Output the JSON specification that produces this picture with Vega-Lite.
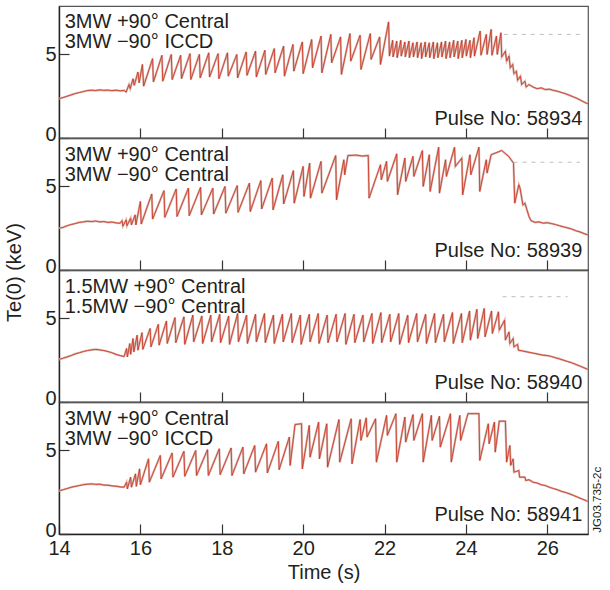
{
  "$schema": "https://vega.github.io/schema/vega-lite/v6.json",
  "padding": {"left": 4, "top": 5, "right": 4, "bottom": 0},
  "spacing": 0,
  "bounds": "flush",
  "config": {
    "font": "Liberation Sans",
    "view": {"stroke": "#555555", "strokeWidth": 1.2},
    "axis": {"labelFont": "Liberation Sans", "labelFontSize": 20, "labelColor": "#231f20", "titleFont": "Liberation Sans", "titleFontSize": 20, "titleFontWeight": "normal", "titleColor": "#231f20", "domainColor": "#222222", "domainWidth": 1.4, "tickColor": "#333333", "tickWidth": 1.2, "grid": false, "labelFlush": false},
    "axisY": {"labelOffset": {"condition": {"test": "datum.value === 0", "value": -4}, "value": 0}}
  },
  "datasets": {
    "p1": [
      {"t":14.00,"v":2.35},{"t":14.10,"v":2.42},{"t":14.20,"v":2.50},{"t":14.30,"v":2.58},{"t":14.40,"v":2.66},{"t":14.50,"v":2.72},{"t":14.60,"v":2.78},{"t":14.70,"v":2.84},{"t":14.80,"v":2.86},{"t":14.90,"v":2.84},{"t":15.00,"v":2.88},{"t":15.10,"v":2.85},{"t":15.20,"v":2.87},{"t":15.30,"v":2.83},{"t":15.40,"v":2.86},{"t":15.50,"v":2.82},{"t":15.60,"v":2.85},
      {"t":15.65,"v":2.75},{"t":15.72,"v":3.20},{"t":15.75,"v":2.95},{"t":15.82,"v":3.55},{"t":15.85,"v":3.15},{"t":15.94,"v":3.95},{"t":15.97,"v":3.30},{"t":16.05,"v":4.40},{"t":16.08,"v":3.10},
      {"t":16.30,"v":4.75},{"t":16.32,"v":3.35},{"t":16.53,"v":4.95},{"t":16.55,"v":3.40},{"t":16.76,"v":5.00},{"t":16.78,"v":3.50},{"t":16.99,"v":4.95},{"t":17.01,"v":3.55},{"t":17.22,"v":5.05},{"t":17.24,"v":3.50},{"t":17.45,"v":5.00},{"t":17.47,"v":3.60},{"t":17.68,"v":5.10},{"t":17.70,"v":3.65},{"t":17.91,"v":5.05},{"t":17.93,"v":3.55},{"t":18.14,"v":5.10},{"t":18.16,"v":3.70},{"t":18.37,"v":5.00},{"t":18.39,"v":3.60},{"t":18.60,"v":5.15},{"t":18.62,"v":3.75},{"t":18.83,"v":5.20},{"t":18.85,"v":3.65},{"t":19.06,"v":5.25},{"t":19.08,"v":3.80},{"t":19.29,"v":5.35},{"t":19.31,"v":3.90},{"t":19.52,"v":5.50},{"t":19.54,"v":3.70},{"t":19.75,"v":5.60},{"t":19.77,"v":4.00},{"t":19.98,"v":5.75},{"t":20.00,"v":3.85},{"t":20.21,"v":5.90},{"t":20.23,"v":4.20},{"t":20.44,"v":6.10},{"t":20.46,"v":3.90},{"t":20.68,"v":6.20},{"t":20.70,"v":4.50},{"t":20.92,"v":6.05},{"t":20.94,"v":3.80},{"t":21.15,"v":6.25},{"t":21.17,"v":4.60},{"t":21.40,"v":6.15},{"t":21.42,"v":4.10},{"t":21.65,"v":6.25},{"t":21.67,"v":4.70},{"t":21.88,"v":6.05},{"t":21.90,"v":4.40},{"t":22.10,"v":6.95},{"t":22.12,"v":4.90},
      {"t":22.20,"v":5.85},{"t":22.21,"v":4.85},{"t":22.30,"v":5.80},{"t":22.31,"v":4.80},{"t":22.40,"v":5.85},{"t":22.41,"v":4.90},{"t":22.50,"v":5.75},{"t":22.51,"v":4.85},{"t":22.60,"v":5.80},{"t":22.61,"v":4.80},{"t":22.70,"v":5.70},{"t":22.71,"v":4.85},{"t":22.80,"v":5.75},{"t":22.81,"v":4.80},{"t":22.90,"v":5.70},{"t":22.91,"v":4.75},{"t":23.00,"v":5.75},{"t":23.01,"v":4.85},{"t":23.10,"v":5.70},{"t":23.11,"v":4.80},{"t":23.20,"v":5.75},{"t":23.21,"v":4.75},{"t":23.30,"v":5.70},{"t":23.31,"v":4.80},{"t":23.40,"v":5.75},{"t":23.41,"v":4.85},{"t":23.50,"v":5.80},{"t":23.51,"v":4.75},{"t":23.60,"v":5.75},{"t":23.61,"v":4.80},{"t":23.70,"v":5.85},{"t":23.71,"v":4.85},{"t":23.80,"v":5.80},{"t":23.81,"v":4.75},{"t":23.90,"v":5.85},{"t":23.91,"v":4.80},{"t":24.00,"v":5.90},{"t":24.01,"v":4.90},{"t":24.10,"v":5.85},{"t":24.11,"v":4.80},{"t":24.20,"v":6.00},{"t":24.21,"v":4.90},
      {"t":24.35,"v":6.40},{"t":24.37,"v":4.95},{"t":24.50,"v":6.20},{"t":24.52,"v":5.00},{"t":24.62,"v":6.50},{"t":24.64,"v":4.95},{"t":24.75,"v":6.10},{"t":24.77,"v":5.00},{"t":24.86,"v":6.30},{"t":24.88,"v":4.85},{"t":24.97,"v":5.20},{"t":25.00,"v":4.60},{"t":25.06,"v":4.90},{"t":25.09,"v":4.20},{"t":25.15,"v":4.40},{"t":25.18,"v":3.85},{"t":25.24,"v":4.00},{"t":25.27,"v":3.45},{"t":25.34,"v":3.70},{"t":25.37,"v":3.20},{"t":25.45,"v":3.40},{"t":25.48,"v":3.05},
      {"t":25.55,"v":3.20},{"t":25.65,"v":3.05},{"t":25.75,"v":2.95},{"t":25.85,"v":3.00},{"t":25.95,"v":2.90},{"t":26.05,"v":2.92},{"t":26.15,"v":2.85},{"t":26.25,"v":2.80},{"t":26.35,"v":2.72},{"t":26.45,"v":2.65},{"t":26.55,"v":2.55},{"t":26.65,"v":2.45},{"t":26.75,"v":2.35},{"t":26.85,"v":2.22},{"t":26.95,"v":2.10},{"t":27.00,"v":2.05}
    ],
    "p2": [
      {"t":14.00,"v":2.50},{"t":14.10,"v":2.55},{"t":14.20,"v":2.65},{"t":14.30,"v":2.72},{"t":14.40,"v":2.78},{"t":14.50,"v":2.85},{"t":14.60,"v":2.88},{"t":14.70,"v":2.92},{"t":14.80,"v":2.90},{"t":14.90,"v":2.93},{"t":15.00,"v":2.88},{"t":15.10,"v":2.90},{"t":15.20,"v":2.85},{"t":15.30,"v":2.87},{"t":15.40,"v":2.82},{"t":15.50,"v":2.80},
      {"t":15.55,"v":2.95},{"t":15.57,"v":2.62},{"t":15.65,"v":3.00},{"t":15.67,"v":2.65},{"t":15.76,"v":3.10},{"t":15.78,"v":2.70},{"t":15.87,"v":3.30},{"t":15.89,"v":2.70},{"t":16.00,"v":4.10},{"t":16.02,"v":2.75},
      {"t":16.28,"v":4.55},{"t":16.30,"v":3.05},{"t":16.58,"v":4.75},{"t":16.60,"v":3.15},{"t":16.88,"v":4.85},{"t":16.90,"v":3.20},{"t":17.18,"v":4.90},{"t":17.20,"v":3.25},{"t":17.48,"v":4.95},{"t":17.50,"v":3.30},{"t":17.78,"v":4.90},{"t":17.80,"v":3.35},{"t":18.08,"v":5.00},{"t":18.10,"v":3.40},{"t":18.38,"v":5.05},{"t":18.40,"v":3.45},{"t":18.68,"v":5.20},{"t":18.70,"v":3.50},{"t":18.96,"v":5.35},{"t":18.98,"v":3.65},{"t":19.24,"v":5.50},{"t":19.26,"v":3.60},{"t":19.50,"v":5.70},{"t":19.52,"v":3.95},{"t":19.76,"v":5.95},{"t":19.78,"v":4.00},{"t":20.00,"v":6.20},{"t":20.02,"v":4.40},{"t":20.16,"v":6.40},{"t":20.18,"v":4.30},{"t":20.44,"v":6.50},{"t":20.46,"v":4.60},{"t":20.80,"v":6.85},{"t":20.82,"v":4.20},{"t":21.00,"v":6.60},{"t":21.02,"v":5.70},{"t":21.10,"v":6.85},{"t":21.30,"v":6.88},{"t":21.45,"v":6.82},{"t":21.60,"v":6.85},{"t":21.62,"v":4.30},
      {"t":21.90,"v":6.30},{"t":21.92,"v":5.40},{"t":22.05,"v":6.50},{"t":22.07,"v":5.30},{"t":22.30,"v":6.95},{"t":22.32,"v":4.50},{"t":22.50,"v":6.70},{"t":22.52,"v":5.30},{"t":22.70,"v":6.80},{"t":22.72,"v":5.60},{"t":22.93,"v":7.15},{"t":22.95,"v":5.00},{"t":23.10,"v":6.90},{"t":23.12,"v":4.70},{"t":23.33,"v":7.35},{"t":23.35,"v":4.60},{"t":23.50,"v":6.60},{"t":23.52,"v":5.60},{"t":23.72,"v":7.35},{"t":23.74,"v":6.20},{"t":23.90,"v":6.70},{"t":23.92,"v":4.50},{"t":24.10,"v":6.90},{"t":24.12,"v":5.70},{"t":24.32,"v":7.35},{"t":24.34,"v":4.70},{"t":24.50,"v":6.60},{"t":24.52,"v":5.80},{"t":24.62,"v":6.90},{"t":24.88,"v":7.15},{"t":25.05,"v":6.80},{"t":25.17,"v":6.40},
      {"t":25.20,"v":4.00},{"t":25.30,"v":5.10},{"t":25.33,"v":4.90},{"t":25.40,"v":3.90},{"t":25.45,"v":4.00},{"t":25.50,"v":3.60},{"t":25.55,"v":3.20},{"t":25.60,"v":2.95},{"t":25.70,"v":2.85},{"t":25.80,"v":2.88},{"t":25.90,"v":2.80},{"t":26.00,"v":2.83},{"t":26.10,"v":2.78},{"t":26.20,"v":2.72},{"t":26.30,"v":2.65},{"t":26.40,"v":2.58},{"t":26.50,"v":2.52},{"t":26.60,"v":2.45},{"t":26.70,"v":2.35},{"t":26.80,"v":2.28},{"t":26.90,"v":2.18},{"t":27.00,"v":2.10}
    ],
    "p3": [
      {"t":14.00,"v":2.55},{"t":14.10,"v":2.62},{"t":14.20,"v":2.70},{"t":14.30,"v":2.78},{"t":14.40,"v":2.88},{"t":14.50,"v":2.95},{"t":14.60,"v":3.02},{"t":14.70,"v":3.08},{"t":14.80,"v":3.12},{"t":14.90,"v":3.15},{"t":15.00,"v":3.12},{"t":15.10,"v":3.08},{"t":15.20,"v":3.02},{"t":15.30,"v":2.95},{"t":15.40,"v":2.85},{"t":15.50,"v":2.78},{"t":15.60,"v":2.72},
      {"t":15.66,"v":3.20},{"t":15.68,"v":2.70},{"t":15.74,"v":3.50},{"t":15.76,"v":2.85},{"t":15.82,"v":3.80},{"t":15.84,"v":3.00},{"t":15.92,"v":4.00},{"t":15.94,"v":3.10},
      {"t":16.04,"v":4.15},{"t":16.06,"v":3.15},{"t":16.24,"v":4.40},{"t":16.26,"v":3.30},{"t":16.44,"v":4.65},{"t":16.46,"v":3.40},{"t":16.64,"v":4.85},{"t":16.66,"v":3.50},{"t":16.85,"v":5.05},{"t":16.87,"v":3.55},{"t":17.07,"v":5.10},{"t":17.09,"v":3.45},{"t":17.29,"v":5.20},{"t":17.31,"v":3.60},{"t":17.51,"v":5.15},{"t":17.53,"v":3.50},{"t":17.73,"v":5.20},{"t":17.75,"v":3.60},{"t":17.95,"v":5.25},{"t":17.97,"v":3.55},{"t":18.17,"v":5.15},{"t":18.19,"v":3.45},{"t":18.39,"v":5.30},{"t":18.41,"v":3.60},{"t":18.61,"v":5.20},{"t":18.63,"v":3.50},{"t":18.83,"v":5.25},{"t":18.85,"v":3.60},{"t":19.05,"v":5.30},{"t":19.07,"v":3.55},{"t":19.27,"v":5.20},{"t":19.29,"v":3.50},{"t":19.49,"v":5.25},{"t":19.51,"v":3.60},{"t":19.71,"v":5.30},{"t":19.73,"v":3.55},{"t":19.93,"v":5.20},{"t":19.95,"v":3.45},{"t":20.15,"v":5.25},{"t":20.17,"v":3.60},{"t":20.37,"v":5.30},{"t":20.39,"v":3.50},{"t":20.59,"v":5.20},{"t":20.61,"v":3.55},{"t":20.81,"v":5.25},{"t":20.83,"v":3.60},{"t":21.03,"v":5.30},{"t":21.05,"v":3.45},{"t":21.25,"v":5.25},{"t":21.27,"v":3.55},{"t":21.47,"v":5.20},{"t":21.49,"v":3.60},{"t":21.69,"v":5.30},{"t":21.71,"v":3.50},{"t":21.91,"v":5.35},{"t":21.93,"v":3.55},{"t":22.13,"v":5.25},{"t":22.15,"v":3.60},{"t":22.35,"v":5.30},{"t":22.37,"v":3.45},{"t":22.57,"v":5.20},{"t":22.59,"v":3.55},{"t":22.79,"v":5.30},{"t":22.81,"v":3.60},{"t":23.01,"v":5.25},{"t":23.03,"v":3.50},{"t":23.23,"v":5.30},{"t":23.25,"v":3.55},{"t":23.45,"v":5.25},{"t":23.47,"v":3.60},{"t":23.67,"v":5.35},{"t":23.69,"v":3.50},{"t":23.89,"v":5.30},{"t":23.91,"v":3.55},{"t":24.09,"v":5.45},{"t":24.11,"v":3.70},{"t":24.27,"v":5.55},{"t":24.29,"v":3.80},{"t":24.45,"v":5.60},{"t":24.47,"v":3.90},{"t":24.63,"v":5.45},{"t":24.65,"v":4.10},{"t":24.80,"v":5.40},{"t":24.82,"v":4.30},
      {"t":24.95,"v":4.90},{"t":24.97,"v":3.70},{"t":25.06,"v":4.20},{"t":25.08,"v":3.50},{"t":25.16,"v":3.80},{"t":25.18,"v":3.30},{"t":25.27,"v":3.45},{"t":25.29,"v":3.10},
      {"t":25.40,"v":3.05},{"t":25.50,"v":3.00},{"t":25.60,"v":2.95},{"t":25.70,"v":2.90},{"t":25.80,"v":2.85},{"t":25.90,"v":2.80},{"t":26.00,"v":2.78},{"t":26.10,"v":2.72},{"t":26.20,"v":2.65},{"t":26.30,"v":2.58},{"t":26.40,"v":2.50},{"t":26.50,"v":2.42},{"t":26.60,"v":2.35},{"t":26.70,"v":2.25},{"t":26.80,"v":2.15},{"t":26.90,"v":2.05},{"t":27.00,"v":1.95}
    ],
    "p4": [
      {"t":14.00,"v":2.58},{"t":14.10,"v":2.65},{"t":14.20,"v":2.72},{"t":14.30,"v":2.80},{"t":14.40,"v":2.85},{"t":14.50,"v":2.90},{"t":14.60,"v":2.95},{"t":14.70,"v":2.98},{"t":14.80,"v":3.00},{"t":14.90,"v":2.97},{"t":15.00,"v":2.98},{"t":15.10,"v":2.93},{"t":15.20,"v":2.92},{"t":15.30,"v":2.88},{"t":15.40,"v":2.86},{"t":15.50,"v":2.82},{"t":15.60,"v":2.80},
      {"t":15.66,"v":3.10},{"t":15.68,"v":2.70},{"t":15.76,"v":3.40},{"t":15.78,"v":2.80},{"t":15.88,"v":3.60},{"t":15.90,"v":2.85},{"t":15.98,"v":3.90},{"t":16.00,"v":2.95},{"t":16.20,"v":4.50},{"t":16.22,"v":3.10},
      {"t":16.49,"v":4.70},{"t":16.51,"v":3.30},{"t":16.78,"v":4.85},{"t":16.80,"v":3.40},{"t":17.07,"v":4.95},{"t":17.09,"v":3.45},{"t":17.36,"v":5.00},{"t":17.38,"v":3.50},{"t":17.65,"v":5.05},{"t":17.67,"v":3.50},{"t":17.94,"v":5.10},{"t":17.96,"v":3.55},{"t":18.23,"v":5.15},{"t":18.25,"v":3.50},{"t":18.52,"v":5.20},{"t":18.54,"v":3.60},{"t":18.81,"v":5.30},{"t":18.83,"v":3.70},{"t":19.10,"v":5.40},{"t":19.12,"v":3.65},{"t":19.39,"v":5.55},{"t":19.41,"v":3.85},{"t":19.66,"v":5.80},{"t":19.68,"v":4.10},{"t":19.80,"v":6.55},{"t":19.96,"v":6.60},{"t":19.98,"v":3.90},
      {"t":20.15,"v":6.50},{"t":20.17,"v":4.60},{"t":20.38,"v":6.70},{"t":20.40,"v":4.50},{"t":20.58,"v":6.60},{"t":20.60,"v":4.00},{"t":20.88,"v":6.85},{"t":20.90,"v":4.30},{"t":21.18,"v":6.90},{"t":21.20,"v":4.20},{"t":21.40,"v":6.85},{"t":21.42,"v":5.60},{"t":21.55,"v":6.95},{"t":21.57,"v":5.80},{"t":21.78,"v":6.90},{"t":21.80,"v":4.30},{"t":22.05,"v":7.10},{"t":22.07,"v":5.90},{"t":22.28,"v":7.20},{"t":22.30,"v":4.30},{"t":22.50,"v":7.00},{"t":22.52,"v":5.50},{"t":22.70,"v":7.15},{"t":22.72,"v":5.60},{"t":22.93,"v":7.20},{"t":22.95,"v":4.30},{"t":23.15,"v":7.10},{"t":23.17,"v":5.60},{"t":23.35,"v":7.05},{"t":23.37,"v":5.20},{"t":23.62,"v":7.20},{"t":23.64,"v":4.30},{"t":23.85,"v":7.10},{"t":23.87,"v":5.60},{"t":24.05,"v":7.20},{"t":24.32,"v":7.20},{"t":24.34,"v":4.40},{"t":24.55,"v":6.60},{"t":24.57,"v":5.40},{"t":24.70,"v":6.70},{"t":24.72,"v":4.90},{"t":24.82,"v":6.75},{"t":24.97,"v":6.75},{"t":25.00,"v":4.30},
      {"t":25.08,"v":5.30},{"t":25.10,"v":4.10},{"t":25.16,"v":4.50},{"t":25.18,"v":3.70},{"t":25.30,"v":3.80},{"t":25.32,"v":3.40},{"t":25.45,"v":3.40},{"t":25.47,"v":3.20},
      {"t":25.55,"v":3.25},{"t":25.65,"v":3.10},{"t":25.75,"v":3.05},{"t":25.85,"v":2.95},{"t":25.95,"v":2.90},{"t":26.05,"v":2.80},{"t":26.15,"v":2.72},{"t":26.25,"v":2.65},{"t":26.35,"v":2.55},{"t":26.45,"v":2.48},{"t":26.55,"v":2.40},{"t":26.65,"v":2.30},{"t":26.75,"v":2.20},{"t":26.85,"v":2.10},{"t":26.95,"v":2.00},{"t":27.00,"v":1.95}
    ]
  },
  "vconcat": [
    {
      "width": 529, "height": 132,
      "layer": [
        {"data": {"values": [{"t": 24.93, "t2": 26.8, "v": 6.2}]}, "mark": {"type": "rule", "color": "#bdbdbd", "strokeWidth": 1, "strokeDash": [4, 5]},
         "encoding": {"x": {"field": "t", "type": "quantitative", "scale": {"domain": [14, 27], "nice": false, "zero": false}, "axis": {"values": [16, 18, 20, 22, 24, 26], "labels": false, "title": null, "tickSize": -10}}, "x2": {"field": "t2"},
                      "y": {"field": "v", "type": "quantitative", "scale": {"domain": [0, 7.9], "nice": false}, "axis": {"values": [0, 5], "title": null, "tickSize": -10, "labelPadding": 13}}}},
        {"data": {"name": "p1"}, "mark": {"type": "line", "color": "#d6b8b2", "strokeWidth": 2.2},
         "encoding": {"x": {"field": "t", "type": "quantitative"}, "y": {"field": "v", "type": "quantitative"}}},
        {"data": {"name": "p1"}, "mark": {"type": "line", "color": "#cc3520", "strokeWidth": 1, "opacity": 0.85},
         "encoding": {"x": {"field": "t", "type": "quantitative"}, "y": {"field": "v", "type": "quantitative"}}},
        {"data": {"values": [{"l": "3MW +90° Central\n3MW −90° ICCD"}]}, "mark": {"type": "text", "align": "left", "baseline": "alphabetic", "fontSize": 20, "lineBreak": "\n", "lineHeight": 20, "color": "#231f20"},
         "encoding": {"x": {"datum": 14.14, "type": "quantitative"}, "y": {"datum": 6.59, "type": "quantitative"}, "text": {"field": "l"}}},
        {"data": {"values": [{"l": "Pulse No: 58934"}]}, "mark": {"type": "text", "align": "right", "baseline": "alphabetic", "fontSize": 20, "color": "#231f20"},
         "encoding": {"x": {"datum": 26.86, "type": "quantitative"}, "y": {"datum": 0.8, "type": "quantitative"}, "text": {"field": "l"}}}
      ]
    },
    {
      "width": 529, "height": 132,
      "layer": [
        {"data": {"values": [{"t": 25.17, "t2": 26.8, "v": 6.45}]}, "mark": {"type": "rule", "color": "#bdbdbd", "strokeWidth": 1, "strokeDash": [4, 5]},
         "encoding": {"x": {"field": "t", "type": "quantitative", "scale": {"domain": [14, 27], "nice": false, "zero": false}, "axis": {"values": [16, 18, 20, 22, 24, 26], "labels": false, "title": null, "tickSize": -10}}, "x2": {"field": "t2"},
                      "y": {"field": "v", "type": "quantitative", "scale": {"domain": [0, 7.9], "nice": false}, "axis": {"values": [0, 5], "title": "Te(0) (keV)", "titleY": 134, "titlePadding": 20, "tickSize": -10, "labelPadding": 13}}}},
        {"data": {"name": "p2"}, "mark": {"type": "line", "color": "#d6b8b2", "strokeWidth": 2.2},
         "encoding": {"x": {"field": "t", "type": "quantitative"}, "y": {"field": "v", "type": "quantitative"}}},
        {"data": {"name": "p2"}, "mark": {"type": "line", "color": "#cc3520", "strokeWidth": 1, "opacity": 0.85},
         "encoding": {"x": {"field": "t", "type": "quantitative"}, "y": {"field": "v", "type": "quantitative"}}},
        {"data": {"values": [{"l": "3MW +90° Central\n3MW −90° Central"}]}, "mark": {"type": "text", "align": "left", "baseline": "alphabetic", "fontSize": 20, "lineBreak": "\n", "lineHeight": 20, "color": "#231f20"},
         "encoding": {"x": {"datum": 14.14, "type": "quantitative"}, "y": {"datum": 6.5, "type": "quantitative"}, "text": {"field": "l"}}},
        {"data": {"values": [{"l": "Pulse No: 58939"}]}, "mark": {"type": "text", "align": "right", "baseline": "alphabetic", "fontSize": 20, "color": "#231f20"},
         "encoding": {"x": {"datum": 26.86, "type": "quantitative"}, "y": {"datum": 0.8, "type": "quantitative"}, "text": {"field": "l"}}}
      ]
    },
    {
      "width": 529, "height": 132,
      "layer": [
        {"data": {"values": [{"t": 24.9, "t2": 26.5, "v": 6.3}]}, "mark": {"type": "rule", "color": "#bdbdbd", "strokeWidth": 1, "strokeDash": [4, 5]},
         "encoding": {"x": {"field": "t", "type": "quantitative", "scale": {"domain": [14, 27], "nice": false, "zero": false}, "axis": {"values": [16, 18, 20, 22, 24, 26], "labels": false, "title": null, "tickSize": -10}}, "x2": {"field": "t2"},
                      "y": {"field": "v", "type": "quantitative", "scale": {"domain": [0, 7.9], "nice": false}, "axis": {"values": [0, 5], "title": null, "tickSize": -10, "labelPadding": 13}}}},
        {"data": {"name": "p3"}, "mark": {"type": "line", "color": "#d6b8b2", "strokeWidth": 2.2},
         "encoding": {"x": {"field": "t", "type": "quantitative"}, "y": {"field": "v", "type": "quantitative"}}},
        {"data": {"name": "p3"}, "mark": {"type": "line", "color": "#cc3520", "strokeWidth": 1, "opacity": 0.85},
         "encoding": {"x": {"field": "t", "type": "quantitative"}, "y": {"field": "v", "type": "quantitative"}}},
        {"data": {"values": [{"l": "1.5MW +90° Central\n1.5MW −90° Central"}]}, "mark": {"type": "text", "align": "left", "baseline": "alphabetic", "fontSize": 20, "lineBreak": "\n", "lineHeight": 20, "color": "#231f20"},
         "encoding": {"x": {"datum": 14.14, "type": "quantitative"}, "y": {"datum": 6.5, "type": "quantitative"}, "text": {"field": "l"}}},
        {"data": {"values": [{"l": "Pulse No: 58940"}]}, "mark": {"type": "text", "align": "right", "baseline": "alphabetic", "fontSize": 20, "color": "#231f20"},
         "encoding": {"x": {"datum": 26.86, "type": "quantitative"}, "y": {"datum": 0.8, "type": "quantitative"}, "text": {"field": "l"}}}
      ]
    },
    {
      "width": 529, "height": 132,
      "layer": [
        {"data": {"name": "p4"}, "mark": {"type": "line", "color": "#d6b8b2", "strokeWidth": 2.2},
         "encoding": {"x": {"field": "t", "type": "quantitative", "scale": {"domain": [14, 27], "nice": false, "zero": false}, "axis": {"values": [14, 16, 18, 20, 22, 24, 26], "title": "Time (s)", "tickSize": -10, "labelPadding": 14, "titlePadding": 4}},
                      "y": {"field": "v", "type": "quantitative", "scale": {"domain": [0, 7.9], "nice": false}, "axis": {"values": [0, 5], "title": null, "tickSize": -10, "labelPadding": 13}}}},
        {"data": {"name": "p4"}, "mark": {"type": "line", "color": "#cc3520", "strokeWidth": 1, "opacity": 0.85},
         "encoding": {"x": {"field": "t", "type": "quantitative"}, "y": {"field": "v", "type": "quantitative"}}},
        {"data": {"values": [{"l": "3MW +90° Central\n3MW −90° ICCD"}]}, "mark": {"type": "text", "align": "left", "baseline": "alphabetic", "fontSize": 20, "lineBreak": "\n", "lineHeight": 20, "color": "#231f20"},
         "encoding": {"x": {"datum": 14.14, "type": "quantitative"}, "y": {"datum": 6.5, "type": "quantitative"}, "text": {"field": "l"}}},
        {"data": {"values": [{"l": "Pulse No: 58941"}]}, "mark": {"type": "text", "align": "right", "baseline": "alphabetic", "fontSize": 20, "color": "#231f20"},
         "encoding": {"x": {"datum": 26.86, "type": "quantitative"}, "y": {"datum": 0.8, "type": "quantitative"}, "text": {"field": "l"}}},
        {"data": {"values": [{"l": "JG03.735-2c"}]}, "mark": {"type": "text", "align": "center", "baseline": "middle", "angle": 270, "fontSize": 11.5, "color": "#231f20"},
         "encoding": {"x": {"datum": 27.25, "type": "quantitative"}, "y": {"datum": 2.05, "type": "quantitative"}, "text": {"field": "l"}}}
      ]
    }
  ]
}
